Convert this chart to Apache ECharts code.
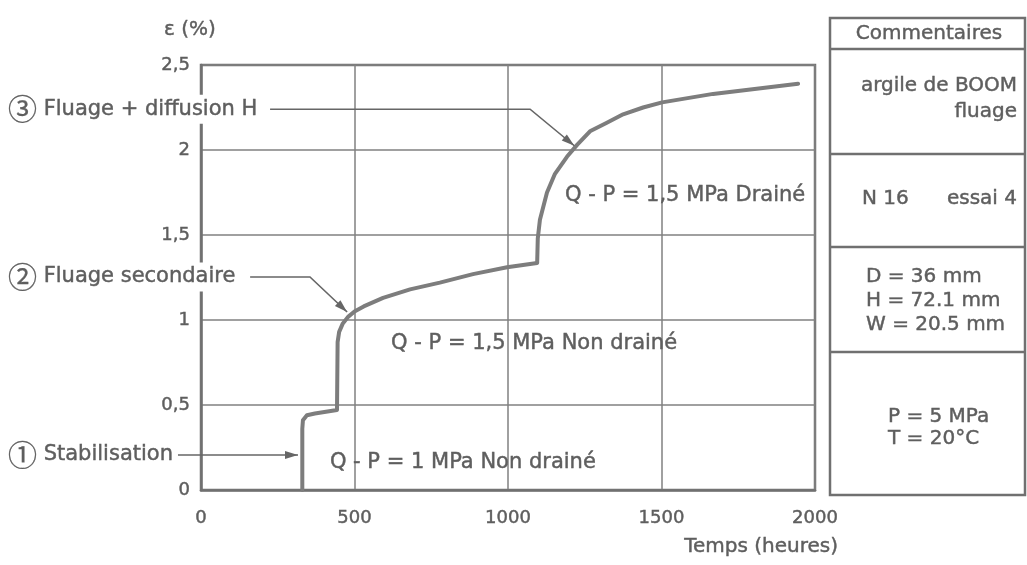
<!DOCTYPE html>
<html><head><meta charset="utf-8">
<script src="https://cdn.jsdelivr.net/npm/echarts@6/dist/echarts.min.js"></script>
<style>html,body{margin:0;padding:0;background:#fff}#c{width:1027px;height:565px}</style>
</head><body><div id="c"></div>
<script>
// ---- data ----
const xTickLabels = ['0', '500', '1000', '1500', '2000'];
const yTickLabels = ['0', '0,5', '1', '1,5', '2', '2,5'];
const timeHours = [330, 330, 332, 345, 371, 443, 445, 445, 450, 462, 480, 500, 530, 593, 681, 778, 886, 997, 1095, 1097, 1104, 1127, 1153, 1192, 1225, 1267, 1322, 1375, 1440, 1502, 1668, 1945];
const strainPct = [0, 0.36, 0.41, 0.44, 0.45, 0.47, 0.47, 0.87, 0.93, 0.98, 1.02, 1.05, 1.08, 1.13, 1.18, 1.22, 1.27, 1.31, 1.335, 1.48, 1.59, 1.75, 1.86, 1.96, 2.03, 2.11, 2.16, 2.21, 2.25, 2.28, 2.33, 2.39];
const phaseNames = ['③', '②', '①'];
const phaseTexts = ['Fluage + diffusion H', 'Fluage secondaire', 'Stabilisation'];
// leader lines in data coords: [start, bend, tip]
const phaseLeaders = [
  [[225, 2.24], [1072, 2.24], [1216, 2.025]],
  [[160, 1.253], [355, 1.253], [476, 1.047]],
  [[-107, 0.206], [-107, 0.206], [316, 0.206]]
];
const loadTexts = ['Q - P = 1 MPa Non drainé', 'Q - P = 1,5 MPa Non drainé', 'Q - P = 1,5 MPa Drainé'];
const loadAnchors = [[853, 0.16], [1085, 0.86], [1577, 1.735]];
const tableRows = [
  ['Commentaires'],
  ['argile de BOOM', 'fluage'],
  ['N 16', 'essai 4'],
  ['D = 36 mm', 'H = 72.1 mm', 'W = 20.5 mm'],
  ['P = 5 MPa', 'T = 20°C']
];

const FONT = 'DejaVu Sans';
const TXT = '#5e5e5e';
const LINE = '#707070';
const BW = 0.45; // slight text weight

const chart = echarts.init(document.getElementById('c'));
chart.setOption({
  animation: false,
  backgroundColor: '#fff',
  grid: { left: 201, top: 65, right: 212, bottom: 75, show: true, borderColor: LINE, borderWidth: 2.5, backgroundColor: 'transparent' },
  xAxis: {
    type: 'value', min: 0, max: 2000, interval: 500,
    axisLine: { show: true, lineStyle: { color: LINE, width: 2.5 } },
    axisTick: { show: false },
    splitLine: { show: true, lineStyle: { color: '#808080', width: 1.5 } },
    axisLabel: { color: TXT, fontFamily: FONT, fontSize: 18, margin: 19, textBorderColor: TXT, textBorderWidth: BW,
      formatter: v => xTickLabels[Math.round(v / 500)] }
  },
  yAxis: {
    type: 'value', min: 0, max: 2.5, interval: 0.5,
    name: 'ε (%)', nameLocation: 'end', nameGap: 25,
    nameTextStyle: { color: TXT, fontFamily: FONT, fontSize: 20, padding: [0, 22, 0, 0], textBorderColor: TXT, textBorderWidth: BW },
    axisLine: { show: true, lineStyle: { color: LINE, width: 2.5 } },
    axisTick: { show: false },
    splitLine: { show: true, lineStyle: { color: '#808080', width: 1.5 } },
    axisLabel: { color: TXT, fontFamily: FONT, fontSize: 18, margin: 11, textBorderColor: TXT, textBorderWidth: BW,
      formatter: v => yTickLabels[Math.round(v / 0.5)] }
  },
  series: [{
    type: 'line', data: timeHours.map((t, i) => [t, strainPct[i]]),
    showSymbol: false, symbol: 'none', smooth: false,
    lineStyle: { color: '#7d7d7d', width: 4, join: 'round', cap: 'round' },
    z: 3
  }]
});

const px = p => chart.convertToPixel({ gridIndex: 0 }, p);
const g = [];
// phase annotations
phaseLeaders.forEach((L, i) => {
  const a = px(L[0]), b = px(L[1]), c = px(L[2]);
  g.push({ type: 'polyline', z: 50, shape: { points: [a, b, c] }, style: { stroke: '#666', lineWidth: 1.6, fill: null } });
  const ang = Math.atan2(c[1] - b[1], c[0] - b[0]);
  const len = 13, hw = 4;
  const bx = c[0] - len * Math.cos(ang), by = c[1] - len * Math.sin(ang);
  g.push({ type: 'polygon', z: 51, shape: { points: [c, [bx - hw * Math.sin(ang), by + hw * Math.cos(ang)], [bx + hw * Math.sin(ang), by - hw * Math.cos(ang)]] }, style: { fill: '#666' } });
  g.push({ type: 'text', z: 60, x: 8, y: a[1], style: {
    text: '{c|' + phaseNames[i] + '} ' + phaseTexts[i],
    rich: { c: { fontFamily: 'Noto Sans CJK JP', fontSize: 29, fill: TXT, stroke: TXT, lineWidth: 0.3 } },
    fontFamily: FONT, fontSize: 21, fill: TXT, stroke: TXT, lineWidth: BW, verticalAlign: 'middle', textAlign: 'left',
    backgroundColor: '#fff', padding: [0, 5, 0, 0] } });
});
// load texts
loadTexts.forEach((t, i) => {
  const p = px(loadAnchors[i]);
  g.push({ type: 'text', z: 40, x: p[0], y: p[1], style: { text: t, fontFamily: FONT, fontSize: 21, fill: TXT, stroke: TXT, lineWidth: BW, textAlign: 'center', verticalAlign: 'middle' } });
});
// axis title x
g.push({ type: 'text', z: 40, x: 838, y: 547, style: { text: 'Temps (heures)', fontFamily: FONT, fontSize: 20, fill: TXT, stroke: TXT, lineWidth: BW, textAlign: 'right', verticalAlign: 'middle' } });
// table
const TL = 830, TR = 1025, rowY = [18, 49, 154, 247, 352, 495];
g.push({ type: 'rect', z: 40, shape: { x: TL, y: rowY[0], width: TR - TL, height: rowY[5] - rowY[0] }, style: { stroke: LINE, lineWidth: 2.5, fill: null } });
for (let k = 1; k < 5; k++) g.push({ type: 'line', z: 40, shape: { x1: TL, y1: rowY[k], x2: TR, y2: rowY[k] }, style: { stroke: LINE, lineWidth: 2.5 } });
const T = (text, x, y, align) => g.push({ type: 'text', z: 41, x, y, style: { text, fontFamily: FONT, fontSize: 20, fill: TXT, stroke: TXT, lineWidth: BW, textAlign: align, verticalAlign: 'middle' } });
T(tableRows[0][0], 929, 34, 'center');
T(tableRows[1][0], 1017, 86, 'right');
T(tableRows[1][1], 1017, 112, 'right');
T(tableRows[2][0], 862, 199, 'left');
T(tableRows[2][1], 1017, 199, 'right');
T(tableRows[3][0], 866, 277, 'left');
T(tableRows[3][1], 866, 301, 'left');
T(tableRows[3][2], 866, 325, 'left');
T(tableRows[4][0], 888, 417, 'left');
T(tableRows[4][1], 888, 439, 'left');
chart.setOption({ graphic: g });
</script></body></html>
